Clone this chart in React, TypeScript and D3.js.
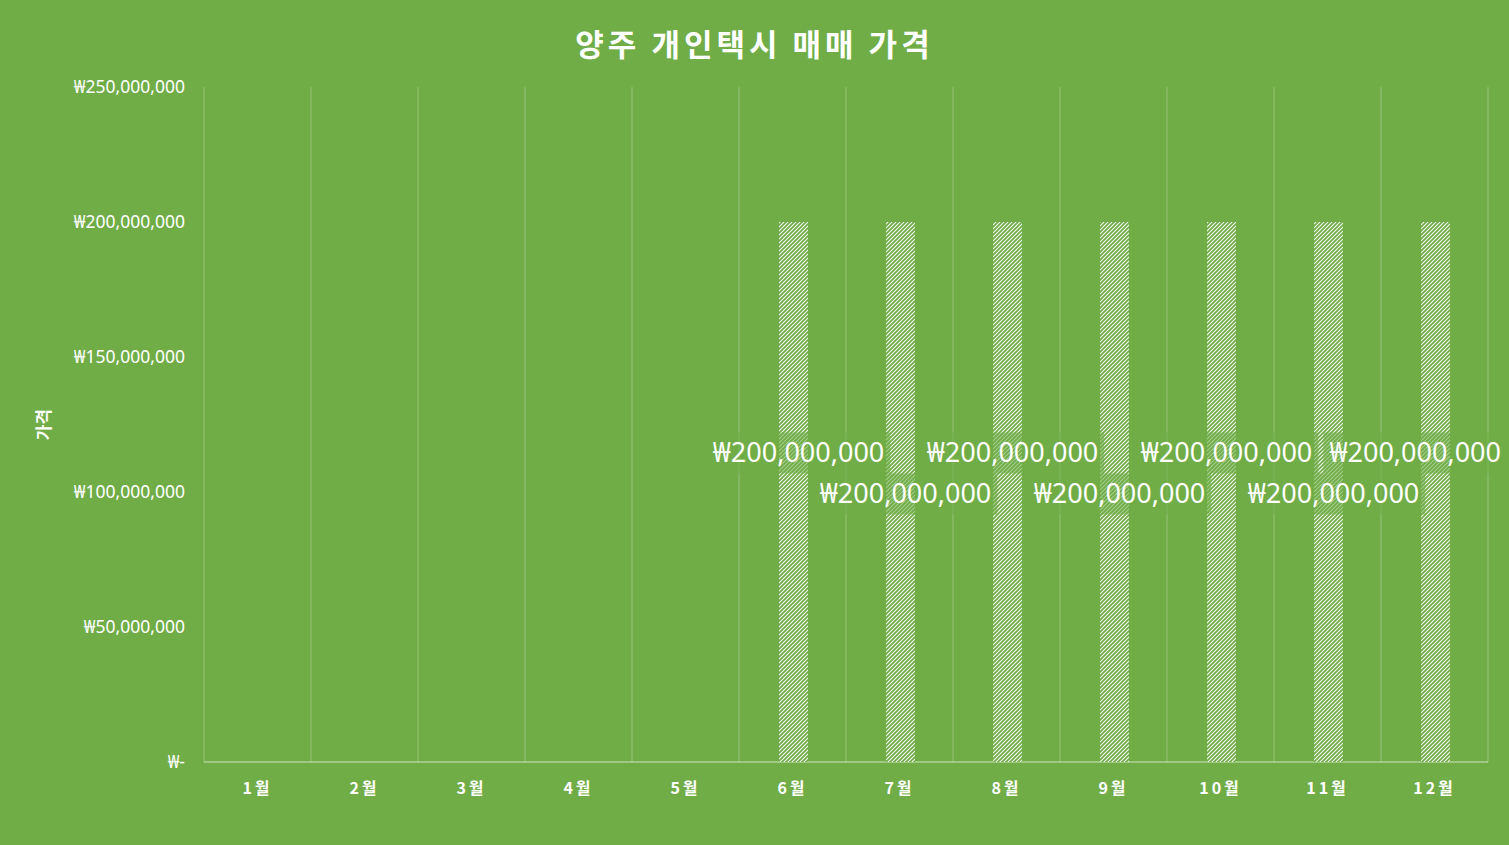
import React, { useEffect, useRef } from 'react';
import * as d3 from 'd3';

const months: string[] = ['1월', '2월', '3월', '4월', '5월', '6월', '7월', '8월', '9월', '10월', '11월', '12월'];
const prices: (number | null)[] = [null, null, null, null, null, 200000000, 200000000, 200000000, 200000000, 200000000, 200000000, 200000000];
const yTicks: number[] = [0, 50000000, 100000000, 150000000, 200000000, 250000000];
const chartTitle = '양주 개인택시 매매 가격';
const yAxisTitle = '가격';

const W = 1509;
const H = 845;
const BG = '#70AD47';
const FONT = '"Noto Sans", "Noto Sans CJK KR", sans-serif';
const KFONT = '"Noto Sans CJK KR", "Noto Sans", sans-serif';

const fmt = (v: number) => (v === 0 ? '₩-' : '₩' + d3.format(',')(v));

export default function App() {
  const ref = useRef<SVGSVGElement>(null);

  useEffect(() => {
    const svg = d3.select(ref.current as SVGSVGElement);
    svg.selectAll('*').remove();

    const left = 204, right = 1488, top = 87, bottom = 762;
    const x = d3.scaleBand<string>().domain(months).range([left, right]).padding(0);
    const y = d3.scaleLinear().domain([0, 250000000]).range([bottom, top]);

    const defs = svg.append('defs');
    const pat = defs.append('pattern')
      .attr('id', 'hatch')
      .attr('patternUnits', 'userSpaceOnUse')
      .attr('width', 4)
      .attr('height', 4);
    pat.append('rect').attr('width', 4).attr('height', 4).attr('fill', '#ffffff');
    pat.append('path')
      .attr('d', 'M-1,1 L1,-1 M0,4 L4,0 M3,5 L5,3')
      .attr('stroke', BG)
      .attr('stroke-width', 1.9);

    svg.append('rect').attr('width', W).attr('height', H).attr('fill', BG);

    // title
    svg.append('text')
      .attr('x', W / 2)
      .attr('y', 56)
      .attr('text-anchor', 'middle')
      .attr('fill', '#fff')
      .attr('font-family', KFONT)
      .attr('font-weight', 'bold')
      .attr('font-size', 31)
      .attr('letter-spacing', 4)
      .text(chartTitle);

    // vertical gridlines at category boundaries
    const bounds = months.map((m) => x(m) as number).concat([right]);
    svg.append('g').selectAll('line').data(bounds).join('line')
      .attr('x1', (d) => d).attr('x2', (d) => d)
      .attr('y1', top).attr('y2', bottom)
      .attr('stroke', 'rgba(255,255,255,0.28)')
      .attr('stroke-width', 1);

    // x axis line
    svg.append('line')
      .attr('x1', left).attr('x2', right)
      .attr('y1', bottom).attr('y2', bottom)
      .attr('stroke', 'rgba(255,255,255,0.45)')
      .attr('stroke-width', 1.3);

    // y tick labels
    svg.append('g').selectAll('text').data(yTicks).join('text')
      .attr('x', 185)
      .attr('y', (d) => y(d))
      .attr('dy', '0.35em')
      .attr('text-anchor', 'end')
      .attr('fill', '#fff')
      .attr('font-family', FONT)
      .attr('font-size', 17.5)
      .text((d) => fmt(d));

    // y axis title
    svg.append('text')
      .attr('transform', `translate(44,${(top + bottom) / 2}) rotate(-90)`)
      .attr('text-anchor', 'middle')
      .attr('dy', '0.35em')
      .attr('fill', '#fff')
      .attr('font-family', KFONT)
      .attr('font-weight', 'bold')
      .attr('font-size', 17)
      .text(yAxisTitle);

    // x labels
    svg.append('g').selectAll('text').data(months).join('text')
      .attr('x', (d) => (x(d) as number) + x.bandwidth() / 2)
      .attr('y', 788)
      .attr('dy', '0.35em')
      .attr('text-anchor', 'middle')
      .attr('fill', '#fff')
      .attr('font-family', KFONT)
      .attr('font-weight', 'bold')
      .attr('font-size', 16)
      .attr('letter-spacing', 3)
      .text((d) => d);

    // bars
    const bw = x.bandwidth() * 0.27;
    const data = months.map((m, i) => ({ m, v: prices[i] })).filter((d) => d.v !== null) as { m: string; v: number }[];
    svg.append('g').selectAll('rect').data(data).join('rect')
      .attr('x', (d) => (x(d.m) as number) + x.bandwidth() / 2 - bw / 2 + 1)
      .attr('y', (d) => y(d.v))
      .attr('width', bw)
      .attr('height', (d) => y(0) - y(d.v))
      .attr('fill', 'url(#hatch)');

    // data labels: centred on bar, alternate rows lifted to avoid overlap
    const lg = svg.append('g');
    const boxH = 41;
    const padX = 6;
    data.forEach((d, i) => {
      const cx = (x(d.m) as number) + x.bandwidth() / 2 + 6;
      const g = lg.append('g');
      const rect = g.append('rect').attr('fill', 'rgba(112,173,71,0.6)');
      const t = g.append('text')
        .attr('text-anchor', 'middle')
        .attr('dy', '0.35em')
        .attr('fill', '#fff')
        .attr('font-family', FONT)
        .attr('font-size', 27)
        .text(fmt(d.v));
      const tw = (t.node() as SVGTextElement).getComputedTextLength();
      const w = tw + padX * 2;
      let bx0 = cx - w / 2;
      if (bx0 + w > W - 2) bx0 = W - 2 - w;
      const cy = y(d.v / 2) + 2 - (i % 2 === 0 ? boxH : 0);
      const by0 = cy - boxH / 2;
      rect.attr('x', bx0).attr('y', by0).attr('width', w).attr('height', boxH);
      t.attr('x', bx0 + w / 2).attr('y', cy);
    });
  }, []);

  return <svg ref={ref} width={W} height={H} style={{ position: 'absolute', left: 0, top: 0, display: 'block' }} />;
}
